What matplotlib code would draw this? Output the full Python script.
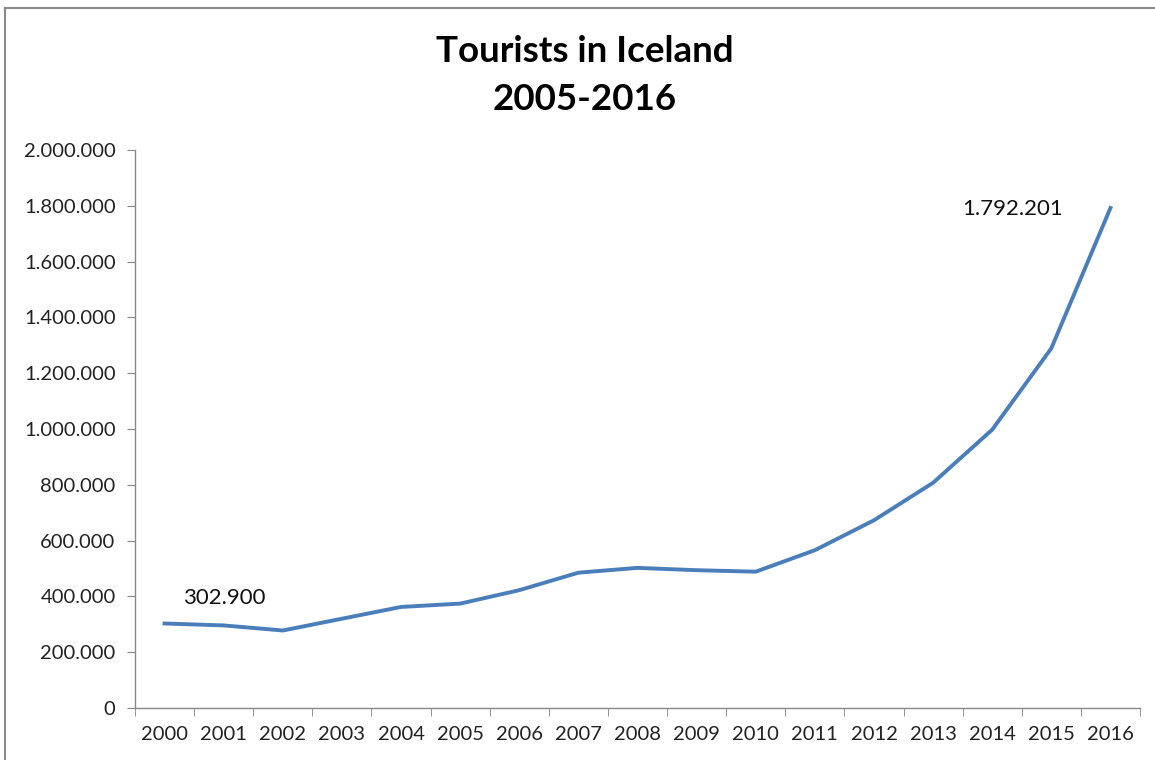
import numpy as np
import matplotlib.pyplot as plt
from matplotlib.ticker import FuncFormatter
from matplotlib.lines import Line2D

# Tourists in Iceland
years = [str(y) for y in range(2000, 2017)]
tourists = [302900, 296000, 277800, 320000, 362200, 374100, 422300, 485000,
            502300, 493900, 488600, 565600, 672800, 807300, 997600, 1289100,
            1792201]
labels_first = "302.900"
labels_last = "1.792.201"

plt.rcParams['font.family'] = ['Lato', 'DejaVu Sans']

W, H = 1155, 760
fig = plt.figure(figsize=(W / 100, H / 100), dpi=100)
ax = fig.add_axes([135 / W, 1 - 708 / H, (1140 - 135) / W, (708 - 150) / H])

x = np.arange(len(years))
ax.plot(x, tourists, color='#4a7ebb', lw=2.8, solid_joinstyle='round')

ax.set_xlim(-0.5, len(years) - 0.5)
ax.set_ylim(0, 2000000)
ax.set_yticks(np.arange(0, 2000001, 200000))
ax.yaxis.set_major_formatter(FuncFormatter(lambda v, p: f"{int(v):,}".replace(",", ".")))
ax.set_xticks(x)
ax.set_xticklabels(years)
ax.set_xticks(np.arange(-0.5, len(years), 1.0), minor=True)

axis_col = '#868686'
for s in ['top', 'right']:
    ax.spines[s].set_visible(False)
for s in ['left', 'bottom']:
    ax.spines[s].set_color(axis_col)
    ax.spines[s].set_linewidth(1.0)
ax.tick_params(axis='y', length=6, color=axis_col, labelsize=14.5, labelcolor='#222222', pad=8)
ax.tick_params(axis='x', which='major', length=0, labelsize=14.5, labelcolor='#222222', pad=13)
ax.tick_params(axis='x', which='minor', length=6, color=axis_col)

# data labels
ax.annotate(labels_first, (x[0], tourists[0]), xytext=(13, 18), textcoords='offset points',
            fontsize=16, color='#111111', ha='left', va='center')
ax.annotate(labels_last, (x[-1], tourists[-1]), xytext=(-34, -1), textcoords='offset points',
            fontsize=16, color='#111111', ha='right', va='center')

fig.text(585 / W, 1 - 52 / H, "Tourists in Iceland", ha='center', va='center',
         fontsize=26.5, fontweight='bold')
fig.text(585 / W, 1 - 100 / H, "2005-2016", ha='center', va='center',
         fontsize=26.5, fontweight='bold')

# chart area border (left and top edges visible)
fig.add_artist(Line2D([5 / W, 5 / W], [0, 1 - 8 / H], transform=fig.transFigure,
                      color='#8a8a8a', lw=1.5))
fig.add_artist(Line2D([5 / W, 1], [1 - 8 / H, 1 - 8 / H], transform=fig.transFigure,
                      color='#8a8a8a', lw=1.5))

fig.savefig('out.png', dpi=100)
